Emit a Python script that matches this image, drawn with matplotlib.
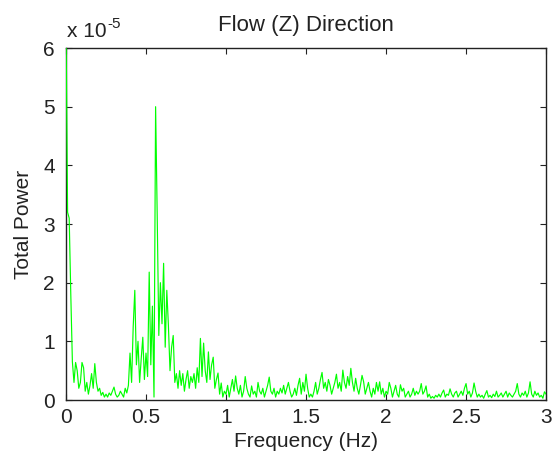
import numpy as np
import matplotlib
matplotlib.use("Agg")
import matplotlib.pyplot as plt

# Frequency step (Hz) and total power (units of 1e-5)
freq_step = 0.01
power_e5 = [
    6.5, 3.2, 3.1, 1.8, 0.65, 0.3, 0.64, 0.5, 0.2, 0.3,      # 0.00-0.09
    0.64, 0.55, 0.15, 0.3, 0.1, 0.25, 0.45, 0.2, 0.62, 0.3,  # 0.10-0.19
    0.15, 0.2, 0.08, 0.13, 0.05, 0.1, 0.05, 0.12, 0.08, 0.15,
    0.22, 0.1, 0.05, 0.08, 0.15, 0.1, 0.05, 0.2, 0.12, 0.25,
    0.8, 0.3, 1.25, 1.87, 0.6, 1.0, 0.3, 0.7, 1.07, 0.35,    # 0.40-0.49
    0.8, 0.4, 2.18, 0.6, 1.6, 0.05, 5.0, 3.15, 1.1, 2.0,     # 0.50-0.59
    1.3, 2.33, 0.9, 1.87, 1.27, 0.5, 0.9, 1.1, 0.3, 0.45,    # 0.60-0.69
    0.2, 0.5, 0.25, 0.45, 0.15, 0.35, 0.5, 0.2, 0.4, 0.3,
    0.45, 0.2, 0.55, 0.3, 1.05, 0.4, 0.97, 0.5, 0.3, 0.82,   # 0.80-0.89
    0.35, 0.6, 0.73, 0.2, 0.35, 0.46, 0.1, 0.29, 0.05, 0.15,
    0.1, 0.25, 0.05, 0.2, 0.35, 0.15, 0.41, 0.2, 0.1, 0.25,  # 1.00
    0.05, 0.15, 0.4, 0.2, 0.1, 0.05, 0.24, 0.1, 0.15, 0.05,
    0.3, 0.15, 0.1, 0.2, 0.05, 0.15, 0.25, 0.39, 0.15, 0.1,
    0.2, 0.05, 0.15, 0.1, 0.2, 0.12, 0.25, 0.1, 0.2, 0.3,
    0.15, 0.05, 0.1, 0.2, 0.08, 0.25, 0.37, 0.1, 0.3, 0.15,
    0.44, 0.2, 0.05, 0.1, 0.05, 0.15, 0.3, 0.1, 0.2, 0.35,   # 1.50
    0.47, 0.2, 0.3, 0.15, 0.35, 0.25, 0.1, 0.2, 0.3, 0.44,
    0.2, 0.3, 0.15, 0.51, 0.3, 0.2, 0.4, 0.25, 0.54, 0.3,
    0.15, 0.37, 0.2, 0.1, 0.25, 0.42, 0.31, 0.1, 0.2, 0.3,
    0.15, 0.05, 0.2, 0.1, 0.3, 0.15, 0.31, 0.1, 0.2, 0.05,
    0.15, 0.1, 0.3, 0.2, 0.05, 0.15, 0.25, 0.1, 0.05, 0.26,  # 2.00
    0.15, 0.2, 0.05, 0.1, 0.15, 0.05, 0.1, 0.2, 0.08, 0.15,
    0.1, 0.15, 0.28, 0.1, 0.15, 0.24, 0.05, 0.1, 0.03, 0.06,
    0.03, 0.08, 0.05, 0.1, 0.05, 0.12, 0.17, 0.05, 0.1, 0.08,
    0.19, 0.1, 0.05, 0.12, 0.15, 0.05, 0.1, 0.15, 0.08, 0.2,
    0.28, 0.1, 0.15, 0.05, 0.12, 0.29, 0.15, 0.05, 0.1, 0.05,  # 2.50
    0.08, 0.03, 0.1, 0.16, 0.05, 0.08, 0.04, 0.1, 0.06, 0.15,
    0.05, 0.08, 0.12, 0.05, 0.1, 0.15, 0.05, 0.12, 0.08, 0.05,
    0.1, 0.15, 0.28, 0.1, 0.05, 0.12, 0.08, 0.15, 0.05, 0.12,
    0.31, 0.1, 0.05, 0.15, 0.08, 0.12, 0.05, 0.08, 0.03, 0.14,
    0.1,
]
freq = np.arange(len(power_e5)) * freq_step

x_ticks = [0, 0.5, 1, 1.5, 2, 2.5, 3]
x_ticklabels = ["0", "0.5", "1", "1.5", "2", "2.5", "3"]
y_ticks = [0, 1, 2, 3, 4, 5, 6]
y_ticklabels = ["0", "1", "2", "3", "4", "5", "6"]

plt.rcParams['font.family'] = ['Liberation Sans', 'DejaVu Sans']
FS = 15

fig = plt.figure(figsize=(5.55, 4.69), dpi=100)
ax = fig.add_axes([0.1189, 0.1471, 0.865, 0.7505])
ax.plot(freq, power_e5, color=(0, 1, 0), lw=0.85, zorder=3)
ax.set_xlim(0, 3)
ax.set_ylim(0, 6)
ax.set_xticks(x_ticks)
ax.set_xticklabels(x_ticklabels)
ax.set_yticks(y_ticks)
ax.set_yticklabels(y_ticklabels)
ax.tick_params(direction='in', length=4, width=0.8, labelsize=FS,
               top=True, right=True, colors='#222222')
ax.tick_params(axis='x', pad=5.5)
ax.tick_params(axis='y', pad=8)
for s in ax.spines.values():
    s.set_linewidth(1.0)
    s.set_color('#222222')
ax.set_xlabel("Frequency (Hz)", fontsize=FS, labelpad=4, color='#222222')
ax.set_ylabel("Total Power", fontsize=FS, labelpad=7, color='#222222')
ax.set_title("Flow (Z) Direction", fontsize=16, pad=12, color='#222222')
t = ax.text(0.002, 1.031, "x 10", transform=ax.transAxes, fontsize=FS,
            ha='left', va='baseline', color='#222222')
ax.annotate("-5", xy=(1, 1), xycoords=t, xytext=(0.5, -1.5),
            textcoords='offset points', fontsize=11, ha='left', va='center',
            color='#222222')

fig.savefig("out.png", dpi=100)
